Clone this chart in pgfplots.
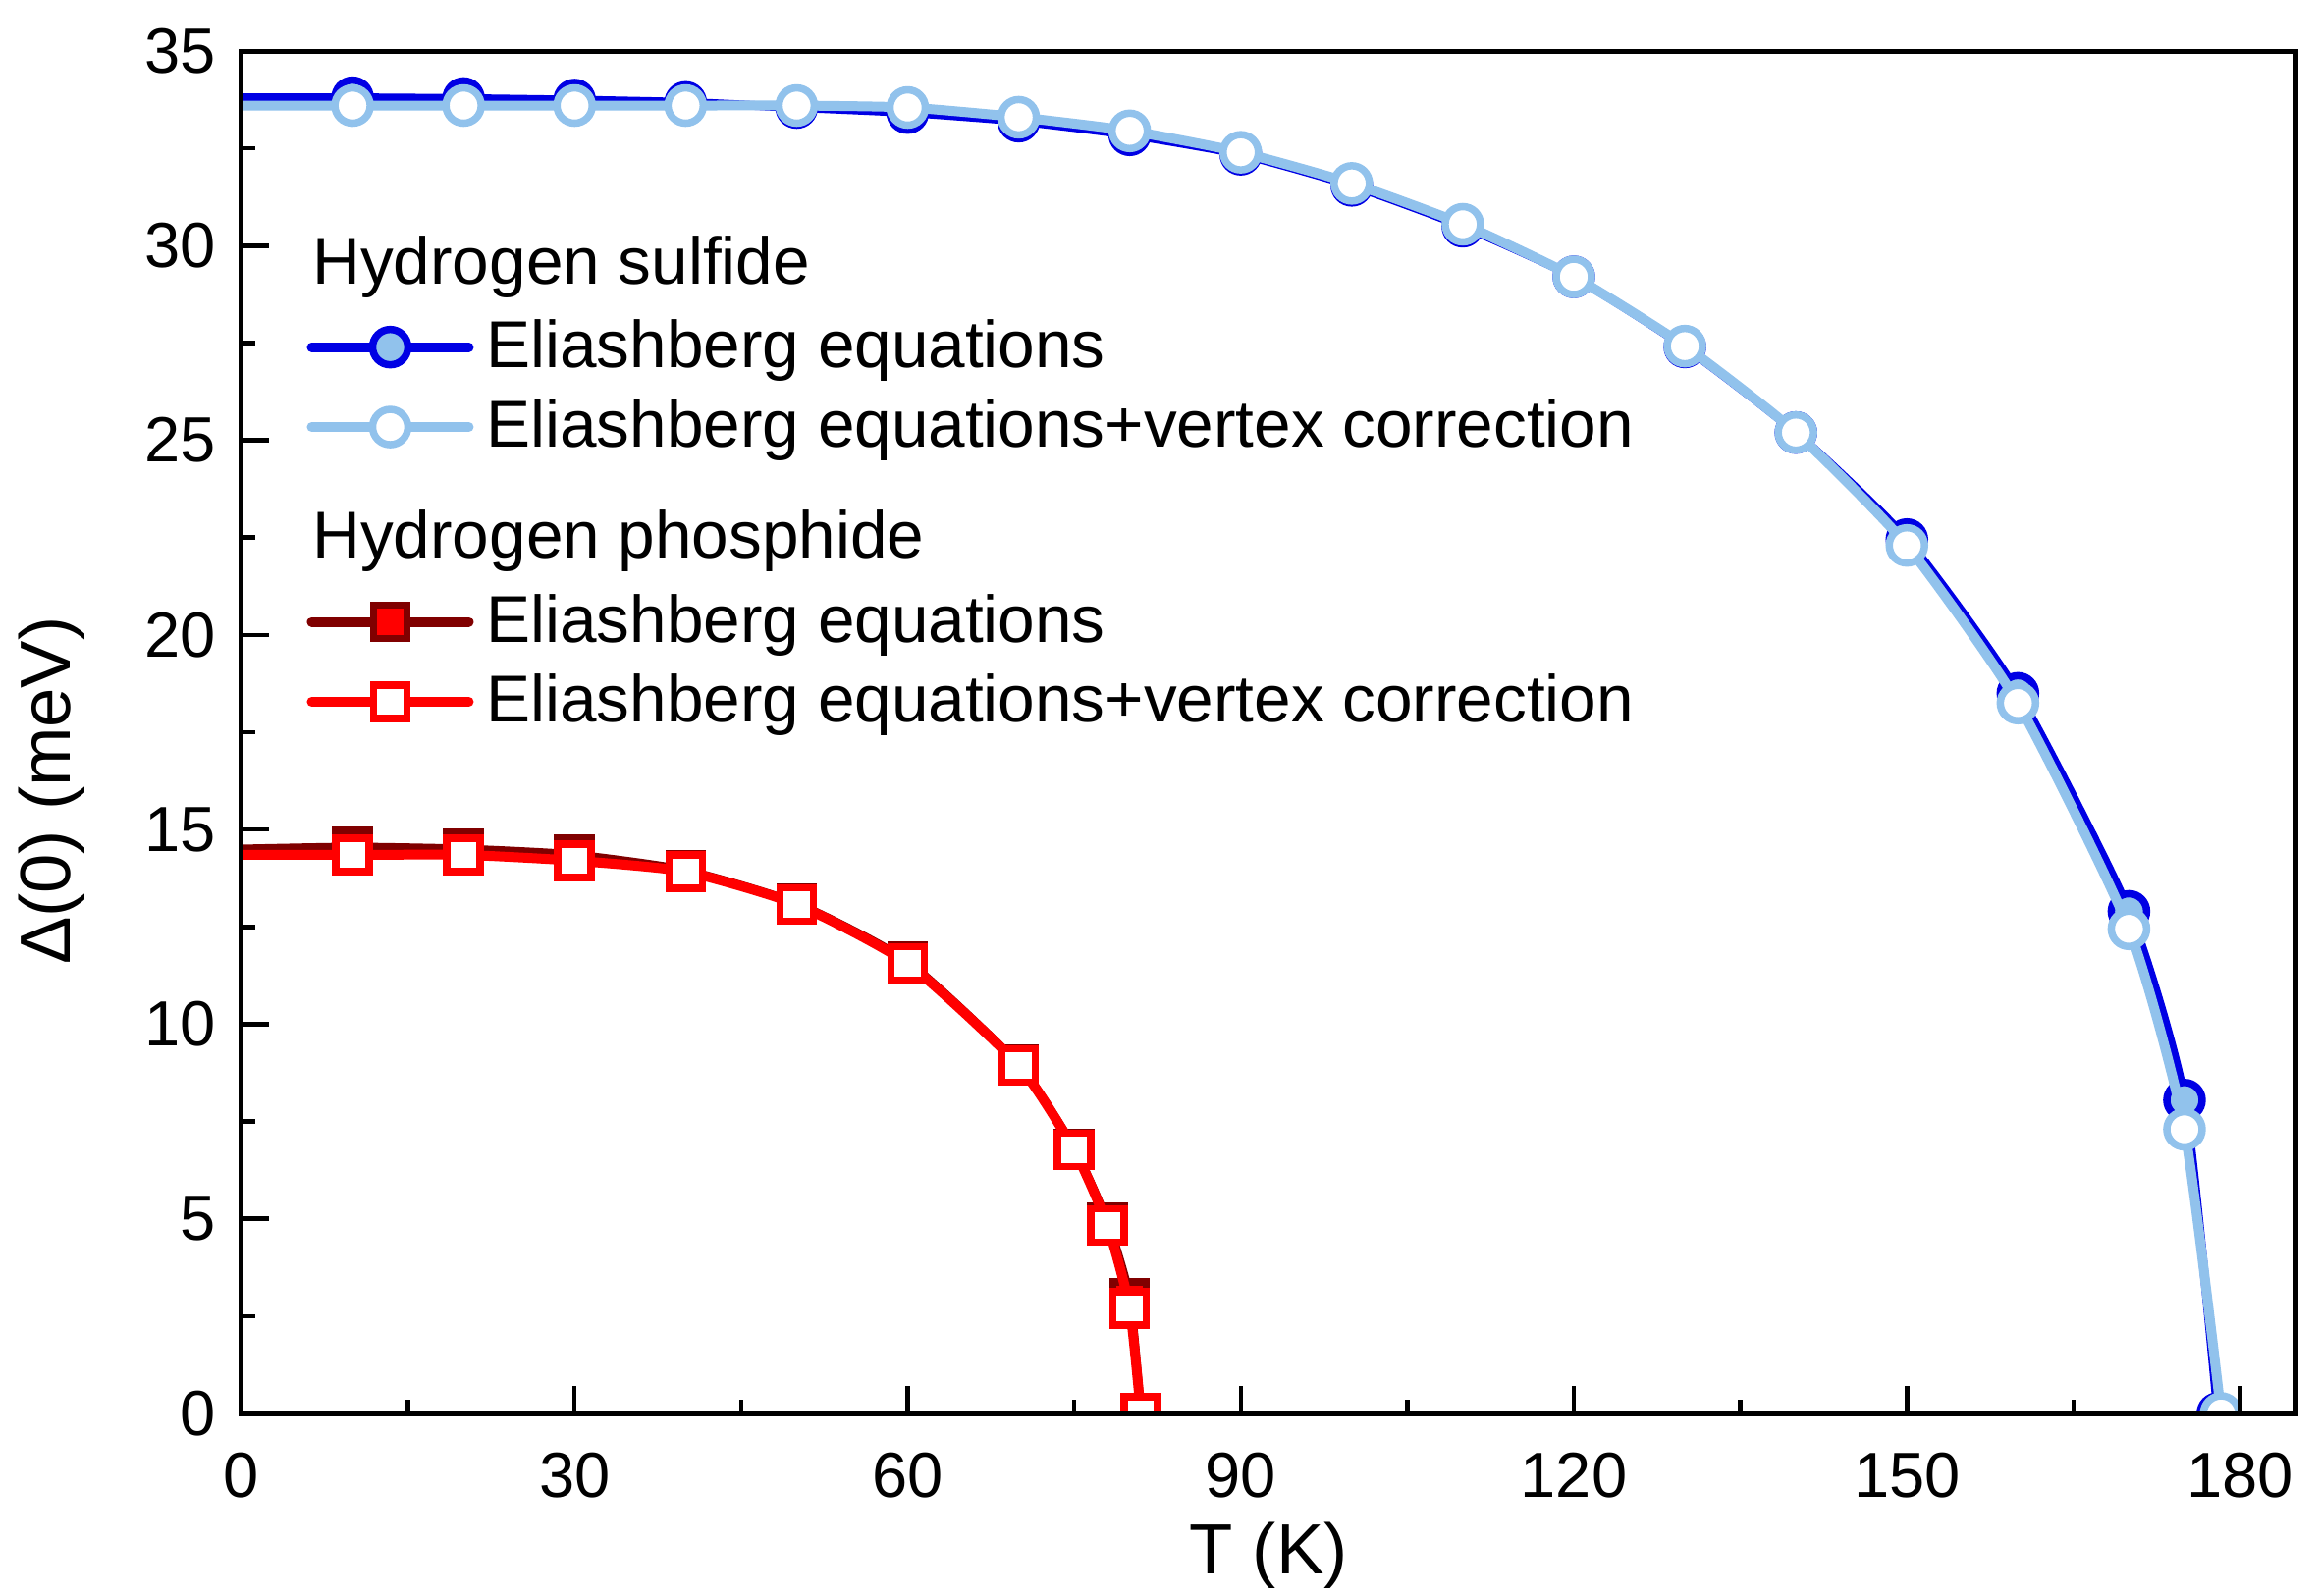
\documentclass[border=0pt]{standalone}
\usepackage{fontspec}
\setmainfont{Liberation Sans}
\usepackage{pgfplots}
\pgfplotsset{compat=1.18}
\definecolor{dblue}{RGB}{0,0,228}
\definecolor{lblue}{RGB}{145,194,236}
\definecolor{dred}{RGB}{128,0,0}
\definecolor{bred}{RGB}{255,0,0}
\begin{document}
\begin{tikzpicture}
\begin{axis}[
  scale only axis, width=418.4pt, height=277.6pt,
  xmin=0, xmax=185, ymin=0, ymax=35,
  xtick={0,30,...,180}, minor x tick num=1,
  ytick={0,5,...,35}, minor y tick num=1,
  tick pos=left, tick align=inside,
  major tick length=5.6pt, minor tick length=2.8pt,
  every tick/.style={black, line width=0.9pt},
  axis line style={line width=1pt},
  axis on top,
  clip marker paths=true,
  /pgf/number format/assume math mode=true,
  tick label style={font=\fontsize{13}{15}\selectfont},
  xticklabel style={yshift=-4.5pt},
  yticklabel style={xshift=-1.8pt},
  xlabel={T (K)}, ylabel={Δ(0) (meV)},
  label style={font=\fontsize{14.5}{17}\selectfont},
  xlabel style={at={(axis description cs:0.5,-0.1045)}, anchor=center},
  ylabel style={at={(axis description cs:-0.0923,0.457)}, anchor=center},
  legend cell align=left,
  legend style={draw=none, fill=none, inner sep=0pt, row sep=5pt,
    font=\fontsize{13.5}{16.2}\selectfont,
    nodes={inner sep=0pt},
    at={(rel axis cs:0.0313,0.868)}, anchor=north west,
    /tikz/every odd column/.append style={column sep=2.6pt}},
  legend image code/.code={\draw[mark indices={2},line width=2pt,line cap=round] plot coordinates {(0pt,0pt) (16pt,0pt) (32pt,0pt)};},
]
\addlegendimage{legend image code/.code={\node[overlay,anchor=west,inner sep=0pt] at (0pt,0pt) {Hydrogen sulfide};}}
\addlegendentry{\strut}

\addplot[dblue, line width=1.8pt, line cap=round, smooth, tension=0.35, mark=*, mark size=3.6pt,
  mark options={line width=1.5pt, fill=lblue, draw=dblue}, mark indices={2,...,20}]
  coordinates {(0,33.8)(10,33.8)(20,33.78)(30,33.74)(40,33.68)(50,33.55)(60,33.42)(70,33.2)(80,32.85)(90,32.35)(100,31.55)(110,30.5)(120,29.2)(130,27.4)(140,25.2)(150,22.45)(160,18.5)(170,12.9)(175,8.05)(178,0)};
\addlegendentry{Eliashberg equations}

\addplot[lblue, line width=2pt, line cap=round, smooth, tension=0.35, mark=*, mark size=3.6pt,
  mark options={line width=1.5pt, fill=white, draw=lblue}, mark indices={2,...,20}]
  coordinates {(0,33.6)(10,33.6)(20,33.6)(30,33.6)(40,33.6)(50,33.6)(60,33.55)(70,33.3)(80,32.95)(90,32.4)(100,31.6)(110,30.55)(120,29.2)(130,27.42)(140,25.2)(150,22.3)(160,18.25)(170,12.45)(175,7.3)(178.3,0)};
\addlegendentry{Eliashberg equations+vertex correction}

\addlegendimage{legend image code/.code={\path[draw=none,fill=none] (0pt,-4pt) -- (0pt,12pt);\node[overlay,anchor=west,inner sep=0pt] at (0pt,0pt) {Hydrogen phosphide};}}
\addlegendentry{\strut}

\addplot[dred, line width=1.8pt, line cap=round, smooth, tension=0.35, mark=square*, mark size=3.4pt,
  mark options={line width=1.5pt, fill=bred, draw=dred}, mark indices={2,...,12}]
  coordinates {(0,14.5)(10,14.55)(20,14.5)(30,14.35)(40,13.95)(50,13.1)(60,11.6)(70,8.95)(75,6.8)(78,4.9)(80,2.95)(81,0)};
\addlegendentry{Eliashberg equations}

\addplot[bred, line width=2pt, line cap=round, smooth, tension=0.35, mark=square*, mark size=3.4pt,
  mark options={line width=1.5pt, fill=white, draw=bred}, mark indices={2,...,12}]
  coordinates {(0,14.35)(10,14.35)(20,14.35)(30,14.2)(40,13.92)(50,13.08)(60,11.56)(70,8.94)(75,6.77)(78,4.83)(80,2.7)(81,0)};
\addlegendentry{Eliashberg equations+vertex correction}
\end{axis}
\pgfresetboundingbox
\path (-49.2pt,-37pt) rectangle (423.4pt,288pt);
\end{tikzpicture}
\end{document}
